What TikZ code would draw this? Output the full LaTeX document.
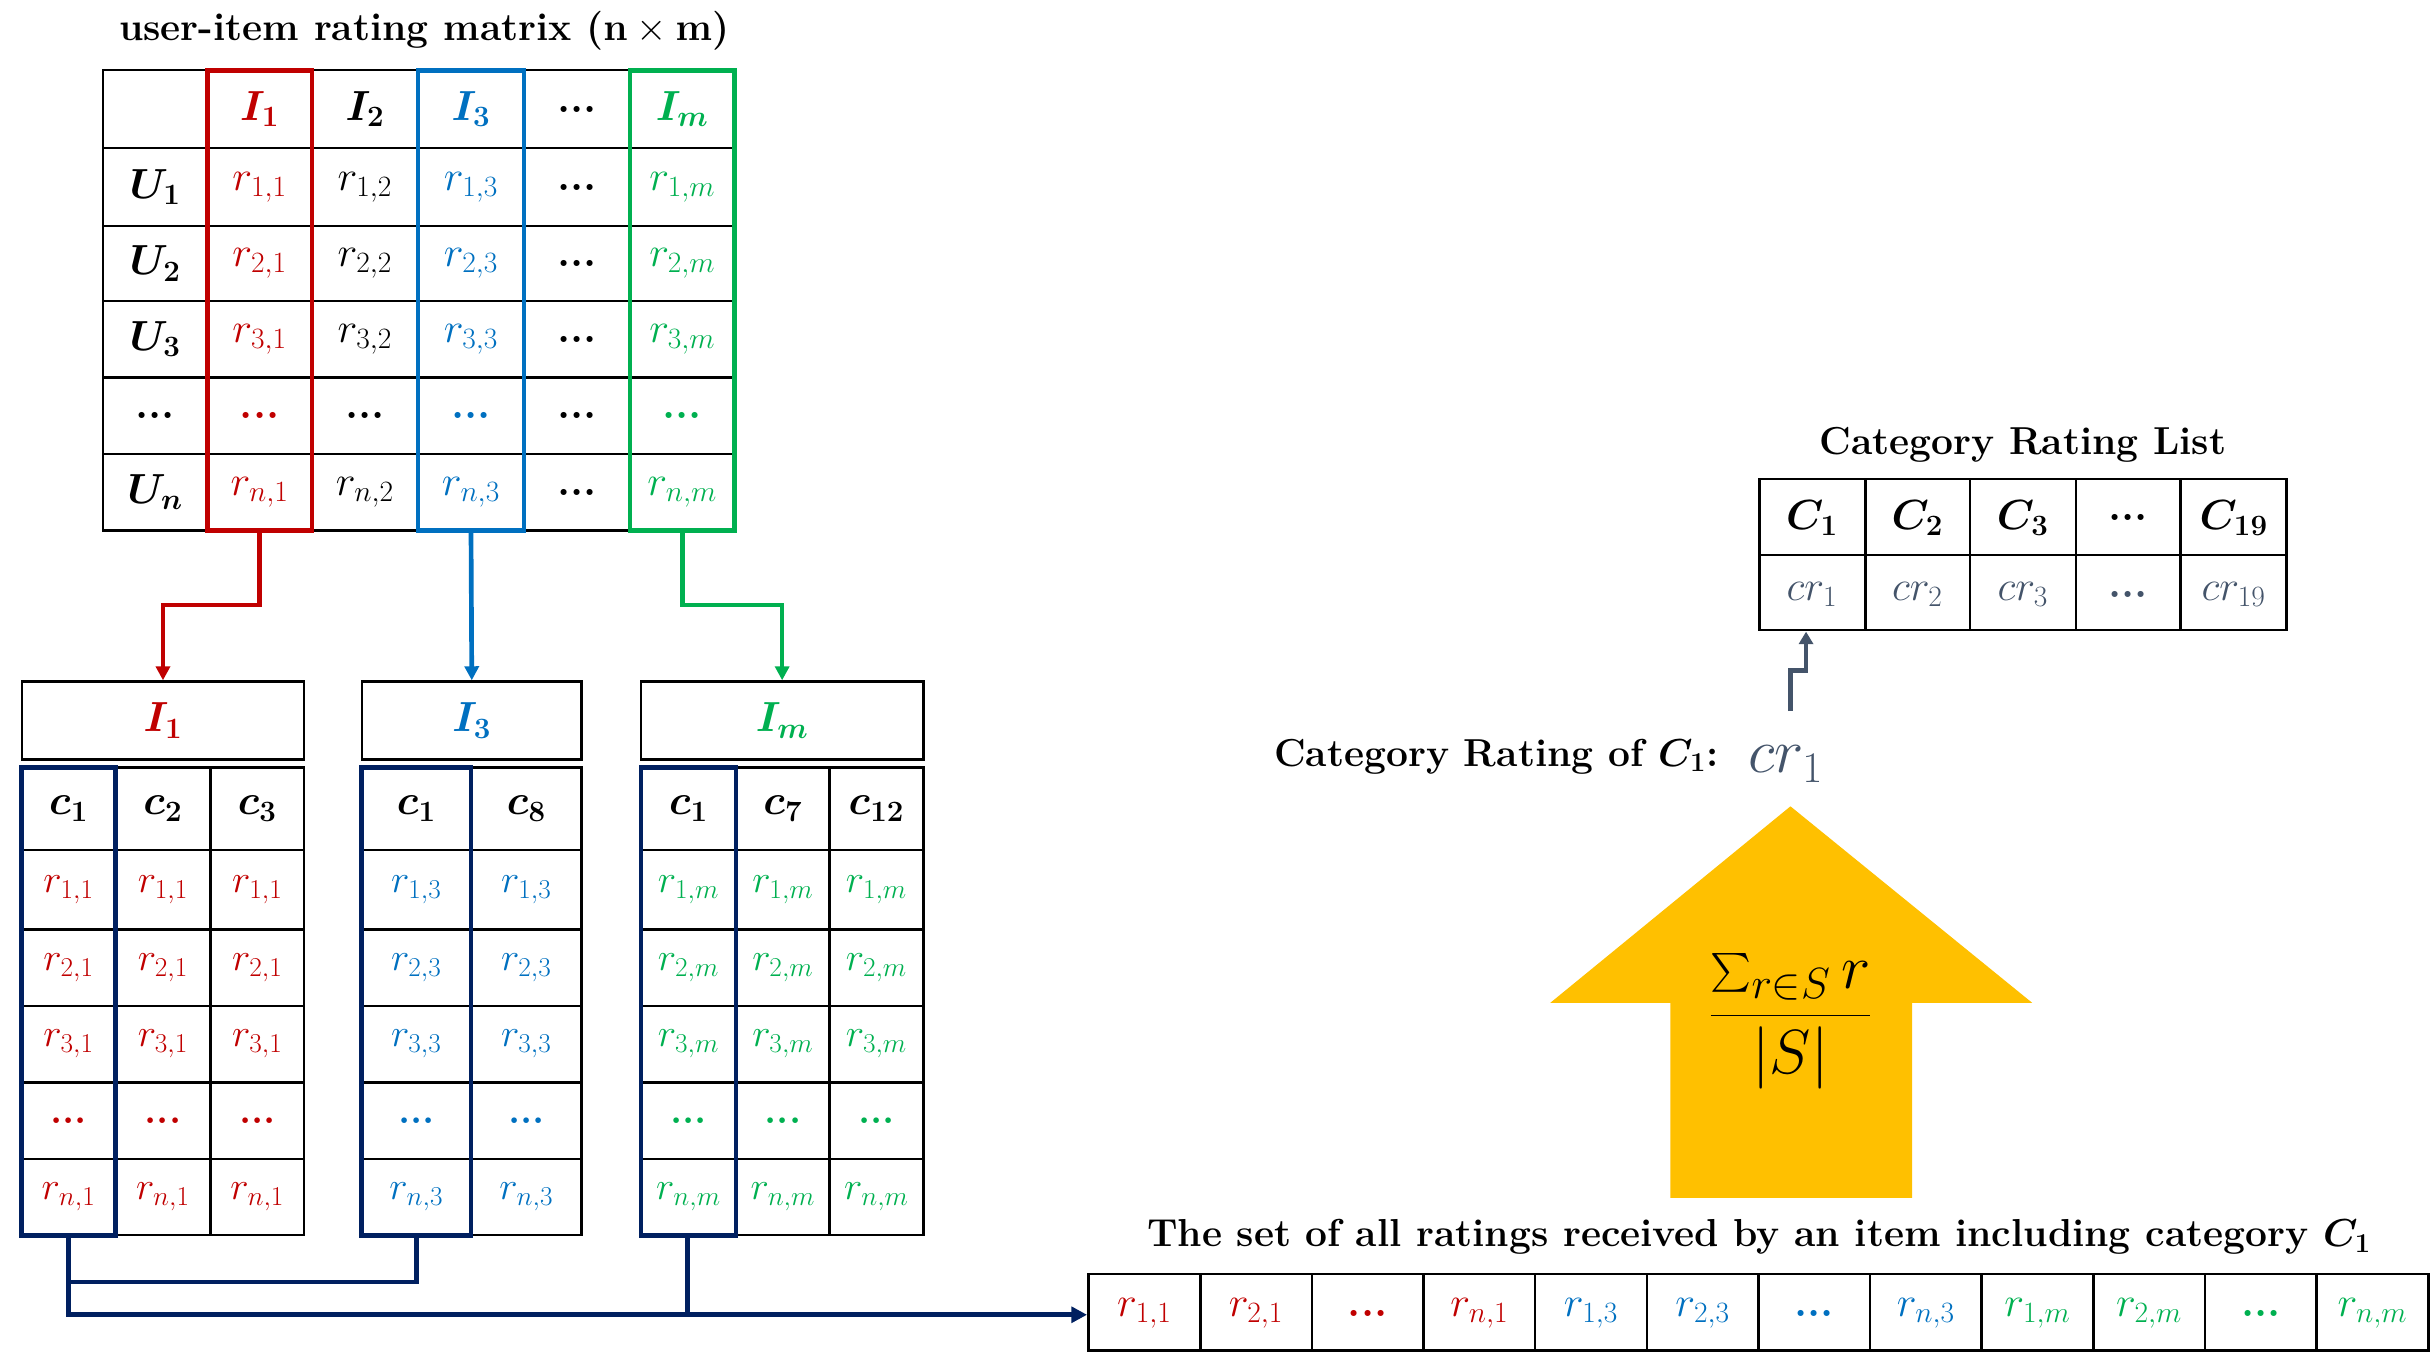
\RequirePackage{fix-cm}
\documentclass[tikz,border=0pt]{standalone}
\usepackage{amsmath}
\usepackage{bm}
\usetikzlibrary{arrows.meta}
\definecolor{myred}{HTML}{C00000}
\definecolor{myblue}{HTML}{0070C0}
\definecolor{mygreen}{HTML}{00B050}
\definecolor{navy}{HTML}{002060}
\definecolor{slate}{HTML}{44546A}
\definecolor{gold}{HTML}{FFC000}
\newcommand\bd{\textbf{...}}
\begin{document}
\begin{tikzpicture}[x=1pt,y=-1pt,
  every node/.style={font=\fontsize{27}{30}\selectfont,inner sep=0pt},
  grid/.style={line width=1.6pt,black},
  ttl/.style={font=\fontsize{25}{30}\selectfont\bfseries},
  con/.style={line width=3pt,-{Triangle[length=9pt,width=9pt]}}]
\useasboundingbox (0,0) rectangle (1560,877);
% ---- main matrix
\node[ttl] (t1) at (272,20) {user-item rating matrix ($\mathbf{n}\times\mathbf{m}$)};
\draw[grid] (66,45) rectangle (471,340);
\foreach \x in {133,200,268,336,404} \draw[grid] (\x,45)--(\x,340);
\foreach \y in {95,145,193,242,291} \draw[grid] (66,\y)--(471,\y);
\newcommand\mrow[7]{%
 \node at (99.5,#1) {#2}; \node[myred] at (166.5,#1) {#3}; \node at (234,#1){#4};
 \node[myblue] at (302,#1){#5}; \node at (370,#1){#6}; \node[mygreen] at (437.5,#1){#7};}
\mrow{70}{}{$\bm{I_1}$}{$\bm{I_2}$}{$\bm{I_3}$}{\bd}{$\bm{I_m}$}
\mrow{120}{$\bm{U_1}$}{$r_{1,1}$}{$r_{1,2}$}{$r_{1,3}$}{\bd}{$r_{1,m}$}
\mrow{169}{$\bm{U_2}$}{$r_{2,1}$}{$r_{2,2}$}{$r_{2,3}$}{\bd}{$r_{2,m}$}
\mrow{217.5}{$\bm{U_3}$}{$r_{3,1}$}{$r_{3,2}$}{$r_{3,3}$}{\bd}{$r_{3,m}$}
\mrow{266.5}{\bd}{\bd}{\bd}{\bd}{\bd}{\bd}
\mrow{315.5}{$\bm{U_n}$}{$r_{n,1}$}{$r_{n,2}$}{$r_{n,3}$}{\bd}{$r_{n,m}$}
\draw[myred,line width=3pt] (133,45) rectangle (200,340);
\draw[myblue,line width=3pt] (268,45) rectangle (336,340);
\draw[mygreen,line width=3pt] (404,45) rectangle (471,340);
\coordinate (mr) at (166.5,340); \coordinate (mb) at (302,340); \coordinate (mg) at (437.5,340);
% ---- sub tables
\node[draw,grid,minimum width=181pt,minimum height=50pt,text=myred] (h1) at (104.5,462) {$\bm{I_1}$};
\node[draw,grid,minimum width=141pt,minimum height=50pt,text=myblue] (h3) at (302.5,462) {$\bm{I_3}$};
\node[draw,grid,minimum width=181pt,minimum height=50pt,text=mygreen] (hm) at (501.5,462) {$\bm{I_m}$};
\draw[con,myred] (mr)--(166.5,388)--(104.5,388)--(h1.north);
\draw[con,myblue] (mb)--(h3.north);
\draw[con,mygreen] (mg)--(437.5,388)--(501.5,388)--(hm.north);
\foreach \a/\b in {14/195,232/373,411/592}{
  \draw[grid] (\a,492) rectangle (\b,792);
  \foreach \y in {545,596,645,694,743} \draw[grid] (\a,\y)--(\b,\y);}
\foreach \x in {74,135,302,472,532} \draw[grid] (\x,492)--(\x,792);
\newcommand\srow[9]{%
 \node at (44,#1) {#2}; \node at (104.5,#1) {#3}; \node at (165,#1) {#4};
 \node at (267,#1) {#5}; \node at (337.5,#1) {#6};
 \node at (441.5,#1) {#7}; \node at (502,#1) {#8}; \node at (562,#1) {#9};}
\srow{518.5}{$\bm{c_1}$}{$\bm{c_2}$}{$\bm{c_3}$}{$\bm{c_1}$}{$\bm{c_8}$}{$\bm{c_1}$}{$\bm{c_7}$}{$\bm{c_{12}}$}
\begin{scope}[every node/.append style={font=\fontsize{25}{28}\selectfont}]
\foreach \k/\y in {1/570.5,2/620.5,3/669.5,n/767.5}{
 \srow{\y}{\color{myred}$r_{\k,1}$}{\color{myred}$r_{\k,1}$}{\color{myred}$r_{\k,1}$}{\color{myblue}$r_{\k,3}$}{\color{myblue}$r_{\k,3}$}{\color{mygreen}$r_{\k,m}$}{\color{mygreen}$r_{\k,m}$}{\color{mygreen}$r_{\k,m}$}}
\srow{718.5}{\color{myred}\bd}{\color{myred}\bd}{\color{myred}\bd}{\color{myblue}\bd}{\color{myblue}\bd}{\color{mygreen}\bd}{\color{mygreen}\bd}{\color{mygreen}\bd}
\end{scope}
\foreach \a/\b in {14/74,232/302,411/472} \draw[navy,line width=3pt] (\a,492) rectangle (\b,792);
% ---- bottom set
\node[ttl] (t2) at (1128,793) {The set of all ratings received by an item including category $\bm{C_1}$};
\draw[grid] (698,817) rectangle (1557,866);
\foreach \i in {1,...,11} \draw[grid] ({698+\i*71.58},817)--({698+\i*71.58},866);
\foreach \t/\c [count=\i] in {$r_{1,1}$/myred,$r_{2,1}$/myred,\bd/myred,$r_{n,1}$/myred,$r_{1,3}$/myblue,$r_{2,3}$/myblue,\bd/myblue,$r_{n,3}$/myblue,$r_{1,m}$/mygreen,$r_{2,m}$/mygreen,\bd/mygreen,$r_{n,m}$/mygreen}
  \node[text=\c] at ({698+(\i-0.5)*71.58},842) {\t};
\coordinate (set) at (697,843);
\draw[navy,line width=3pt] (267,792)--(267,822)--(44,822);
\draw[navy,line width=3pt] (441,792)--(441,843);
\draw[navy,line width=3pt,-{Triangle[length=10pt,width=10pt]}] (44,792)--(44,843)--(set);
% ---- big arrow
\fill[gold] (1071,768)--(1071,643)--(994,643)--(1148,517)--(1303,643)--(1226,643)--(1226,768)--cycle;
\node (f) at (1148,655) {\fontsize{40}{48}\selectfont$\dfrac{\sum_{r\in S} r}{|S|}$};
% ---- category rating
\node[ttl,anchor=east] (cl) at (1102,485) {Category Rating of $\bm{C_1}$:};
\node[slate] (cr) at (1145,490) {\fontsize{40}{48}\selectfont$cr_1$};
\node[ttl] (t3) at (1297,285) {Category Rating List};
\draw[grid] (1128,307) rectangle (1466,404);
\draw[grid] (1128,356)--(1466,356);
\foreach \x in {1196,1263,1331,1398} \draw[grid] (\x,307)--(\x,404);
\foreach \a/\b [count=\i] in {$\bm{C_1}$/$cr_1$,$\bm{C_2}$/$cr_2$,$\bm{C_3}$/$cr_3$,\bd/\bd,$\bm{C_{19}}$/$cr_{19}$}{
  \node at ({1128+(\i-0.5)*67.6},332) {\a};
  \node[slate] at ({1128+(\i-0.5)*67.6},381) {\b};}
\coordinate (cl1) at (1158,405);
\draw[slate,line width=3pt,-{Triangle[length=8pt,width=9pt]}] (1148,456)--(1148,430)--(1158,430)--(cl1);
\end{tikzpicture}
\end{document}
